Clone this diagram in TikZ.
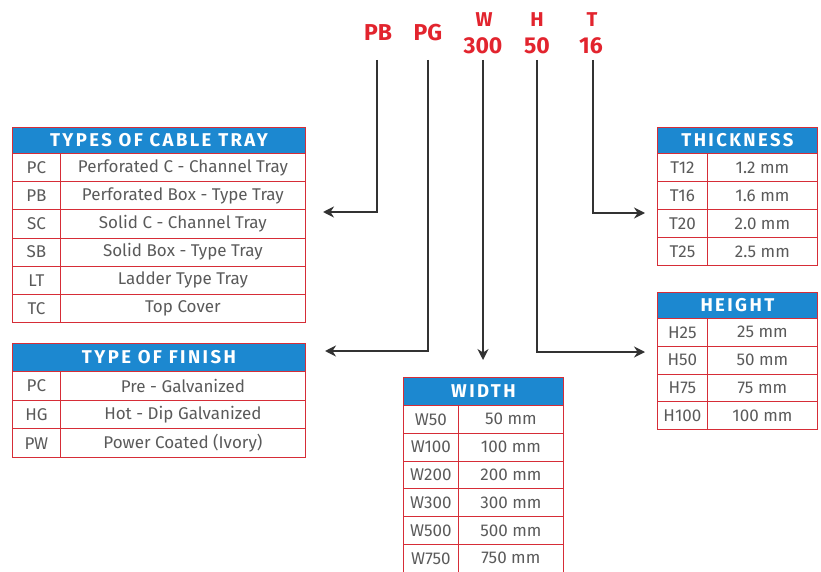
\documentclass[tikz,border=0pt]{standalone}
\usepackage{fontspec}
\setmainfont{Fira Sans}
\newfontfamily\headfont[LetterSpace=13]{Fira Sans}
\usetikzlibrary{arrows.meta}
\definecolor{tblue}{RGB}{28,136,208}
\definecolor{tred}{RGB}{214,45,55}
\definecolor{tgray}{RGB}{90,90,90}
\definecolor{cred}{RGB}{226,36,46}
\definecolor{lgray}{RGB}{50,50,50}

\begin{document}
\begin{tikzpicture}[x=1pt, y=-1pt, >={Stealth[length=11pt,width=11pt]}]
  \tikzstyle{head}=[draw=tred, fill=tblue, text=white, font=\headfont\bfseries\fontsize{18.5}{18.5}\selectfont, anchor=north west, inner sep=0pt, line width=0.8pt]
  \tikzstyle{cell}=[draw=tred, text=tgray, font=\fontsize{17}{17}\selectfont, anchor=north west, inner sep=0pt, line width=0.8pt]
  \tikzstyle{code}=[text=cred, font=\bfseries\fontsize{23}{23}\selectfont]
  \tikzstyle{key}=[text=cred, font=\bfseries\fontsize{20}{20}\selectfont]
  \tikzstyle{link}=[->, draw=lgray, line width=2pt]

  \useasboundingbox (0,0) rectangle (821,572);

  % codes on top
  \node[code] (pb) at (378,33) {PB};
  \node[code] (pg) at (428,33) {PG};
  \node[key]  (w)  at (484,20) {W};
  \node[code] (w300) at (483,46) {300};
  \node[key]  (h)  at (537,20) {H};
  \node[code] (h50) at (537,46) {50};
  \node[key]  (t)  at (592,20) {T};
  \node[code] (t16) at (591,46) {16};

  % types of cable tray
  \node[head, minimum width=293pt, minimum height=26pt] (tray) at (12,127) {TYPES OF CABLE TRAY};
  \foreach \c/\t [count=\i] in {PC/Perforated C - Channel Tray, PB/Perforated Box - Type Tray,
      SC/Solid C - Channel Tray, SB/Solid Box - Type Tray, LT/Ladder Type Tray, TC/Top Cover}{
    \node[cell, minimum width=48pt, minimum height=28.17pt] (tray-c\i) at (12,{153+(\i-1)*28.17}) {\c};
    \node[cell, minimum width=245pt, minimum height=28.17pt] (tray-t\i) at (60,{153+(\i-1)*28.17}) {\t};
  }

  % type of finish
  \node[head, minimum width=293pt, minimum height=28pt] (finish) at (12,343) {TYPE OF FINISH};
  \foreach \c/\t [count=\i] in {PC/Pre - Galvanized, HG/Hot - Dip Galvanized, PW/Power Coated (Ivory)}{
    \node[cell, minimum width=48pt, minimum height=28.7pt] (finish-c\i) at (12,{371+(\i-1)*28.7}) {\c};
    \node[cell, minimum width=245pt, minimum height=28.7pt] (finish-t\i) at (60,{371+(\i-1)*28.7}) {\t};
  }

  % width
  \node[head, minimum width=160pt, minimum height=28pt] (width) at (403,377) {WIDTH};
  \foreach \c/\t [count=\i] in {W50/50 mm, W100/100 mm, W200/200 mm, W300/300 mm, W500/500 mm, W750/750 mm}{
    \node[cell, minimum width=55pt, minimum height=27.8pt] (width-c\i) at (403,{405+(\i-1)*27.8}) {\c};
    \node[cell, minimum width=105pt, minimum height=27.8pt] (width-t\i) at (458,{405+(\i-1)*27.8}) {\t};
  }

  % thickness
  \node[head, minimum width=160pt, minimum height=26pt] (thick) at (657,127) {THICKNESS};
  \foreach \c/\t [count=\i] in {T12/1.2 mm, T16/1.6 mm, T20/2.0 mm, T25/2.5 mm}{
    \node[cell, minimum width=50pt, minimum height=28pt] (thick-c\i) at (657,{153+(\i-1)*28}) {\c};
    \node[cell, minimum width=110pt, minimum height=28pt] (thick-t\i) at (707,{153+(\i-1)*28}) {\t};
  }

  % height
  \node[head, minimum width=160pt, minimum height=26pt] (height) at (657,292) {HEIGHT};
  \foreach \c/\t [count=\i] in {H25/25 mm, H50/50 mm, H75/75 mm, H100/100 mm}{
    \node[cell, minimum width=50pt, minimum height=27.75pt] (height-c\i) at (657,{318+(\i-1)*27.75}) {\c};
    \node[cell, minimum width=110pt, minimum height=27.75pt] (height-t\i) at (707,{318+(\i-1)*27.75}) {\t};
  }

  % connectors
  \coordinate (pb-end) at (323,212);
  \coordinate (pg-end) at (325,351);
  \coordinate (w-end)  at (483,360);
  \coordinate (h-end)  at (645,352);
  \coordinate (t-end)  at (645,213);
  \draw[link] ([xshift=-1pt,yshift=-27pt]pb.center) |- (pb-end);
  \draw[link] ([yshift=-27pt]pg.center) |- (pg-end);
  \draw[link] ([yshift=-14pt]w300.center) -- (w-end);
  \draw[link] ([yshift=-14pt]h50.center) |- (h-end);
  \draw[link] ([xshift=2pt,yshift=-14pt]t16.center) |- (t-end);
\end{tikzpicture}
\end{document}
